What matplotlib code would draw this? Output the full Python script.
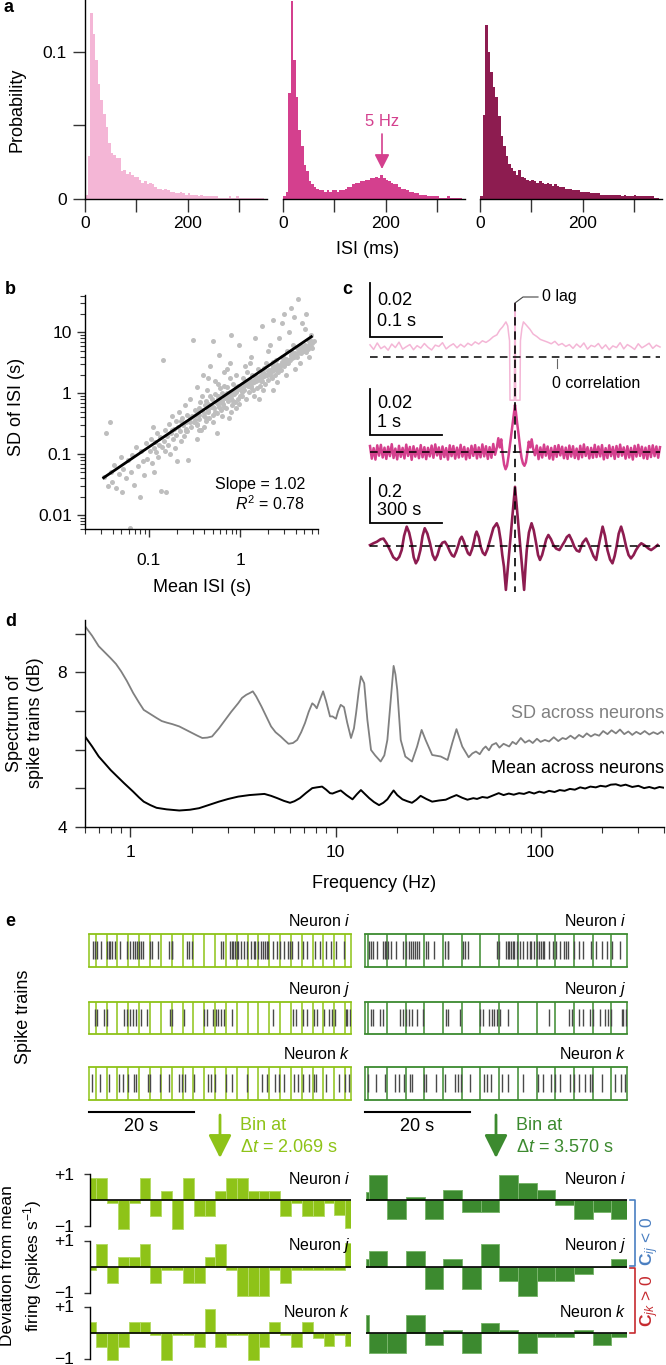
import numpy as np
import matplotlib
matplotlib.use('Agg')
import matplotlib.pyplot as plt
from matplotlib.ticker import LogLocator, FixedLocator, FixedFormatter, NullFormatter

plt.rcParams['font.family'] = ['Liberation Sans', 'DejaVu Sans']
plt.rcParams['mathtext.fontset'] = 'custom'
plt.rcParams['mathtext.rm'] = 'Liberation Sans'
plt.rcParams['mathtext.it'] = 'Liberation Sans:italic'
plt.rcParams['mathtext.bf'] = 'Liberation Sans:bold'
plt.rcParams['axes.linewidth'] = 1.0

# ---------------- data ----------------
# a: ISI histograms (probability x 1e-3, 5 ms bins from 0 to 350 ms)
ISI_BIN_MS = 5
ISI_HIST_1 = [3, 29, 126, 112, 94, 78, 67, 58, 49, 38, 31, 30, 28, 28, 19, 20, 17, 18, 16, 15,
              15, 13, 11, 12, 10, 11, 10, 8, 7, 7, 6, 7, 6, 5, 5, 4, 4, 5, 4, 3,
              4, 3, 3, 3, 2, 3, 2, 2, 2, 2, 2, 2, 1, 1, 1, 1, 2, 1, 1, 2,
              1, 1, 1, 1, 1, 1, 1, 1, 1, 1]
ISI_HIST_2 = [2, 5, 72, 134, 94, 69, 47, 36, 23, 19, 12, 10, 8, 7, 6, 6, 5, 6, 5, 6,
              6, 5, 6, 6, 7, 8, 8, 10, 11, 11, 12, 12, 13, 13, 14, 14, 15, 14, 16, 14,
              13, 12, 11, 10, 10, 8, 7, 7, 6, 5, 5, 4, 4, 3, 3, 3, 2, 2, 2, 2,
              2, 1, 1, 1, 2, 1, 1, 1, 1, 1]
ISI_HIST_3 = [2, 57, 118, 100, 86, 76, 69, 56, 43, 36, 29, 24, 21, 19, 16, 20, 15, 14, 13, 12,
              13, 12, 11, 12, 11, 10, 11, 10, 9, 10, 9, 8, 8, 7, 7, 7, 6, 6, 6, 5,
              5, 5, 5, 4, 4, 4, 4, 3, 3, 3, 3, 3, 3, 3, 3, 2, 3, 2, 2, 2,
              3, 2, 2, 2, 2, 2, 2, 2, 1, 1]
HIST_COLORS = ['#f4b6d6', '#d4408e', '#8d1c50']

# b: log10 mean ISI / log10 SD of ISI per neuron
LOG_MEAN_ISI = [
    -1.49, -1.47, -1.45, -1.43, -1.42, -1.40, -1.38, -1.36, -1.33, -1.31, -1.30, -1.28, -1.25,
    -1.23, -1.21, -1.20, -1.18, -1.16, -1.14, -1.12, -1.10, -1.09, -1.07, -1.05, -1.03, -1.02,
    -0.99, -0.98, -0.97, -0.96, -0.95, -0.94, -0.93, -0.92, -0.91, -0.90, -0.89, -0.88, -0.87,
    -0.86, -0.85, -0.84, -0.83, -0.82, -0.81, -0.80, -0.79, -0.78, -0.77, -0.76, -0.75, -0.74,
    -0.73, -0.72, -0.71, -0.70, -0.69, -0.68, -0.67, -0.66, -0.65, -0.64, -0.63, -0.62, -0.61,
    -0.60, -0.59, -0.58, -0.57, -0.56, -0.55, -0.54, -0.53, -0.52, -0.51, -0.50,
    -0.49, -0.48, -0.47, -0.46, -0.45, -0.44, -0.43, -0.42, -0.41, -0.40, -0.39, -0.38, -0.37,
    -0.36, -0.35, -0.34, -0.33, -0.32, -0.31, -0.30, -0.29, -0.28, -0.27, -0.26, -0.25, -0.24,
    -0.23, -0.22, -0.21, -0.20, -0.19, -0.18, -0.17, -0.16, -0.15, -0.14, -0.13, -0.12, -0.11,
    -0.10, -0.09, -0.08, -0.07, -0.06, -0.05, -0.04, -0.03, -0.02, -0.01, 0.00, -0.45, -0.40,
    -0.35, -0.30, -0.25, -0.20, -0.15, -0.10, -0.05, -0.02, -0.42, -0.38, -0.33, -0.28, -0.22,
    -0.18, -0.12, -0.08, -0.03, -0.48, -0.26, -0.10, -0.30,
    0.01, 0.02, 0.03, 0.04, 0.05, 0.06, 0.07, 0.08, 0.09, 0.10, 0.11, 0.12, 0.13, 0.14, 0.15,
    0.16, 0.17, 0.18, 0.19, 0.20, 0.21, 0.22, 0.23, 0.24, 0.25, 0.26, 0.27, 0.28, 0.29, 0.30,
    0.31, 0.32, 0.33, 0.34, 0.35, 0.36, 0.37, 0.38, 0.39, 0.40, 0.41, 0.42, 0.43, 0.44, 0.45,
    0.46, 0.47, 0.48, 0.49, 0.50, 0.51, 0.52, 0.53, 0.54, 0.55, 0.56, 0.57, 0.58, 0.59, 0.60,
    0.61, 0.62, 0.63, 0.64, 0.65, 0.66, 0.67, 0.68, 0.69, 0.70, 0.71, 0.72, 0.73, 0.74, 0.75,
    0.76, 0.77, 0.78, 0.20, 0.35, 0.50, 0.65, 0.55, 0.45, 0.30, 0.70, 0.10, 0.40, 0.60, 0.75,
    0.05, 0.25, 0.15,
    -0.60, -0.55, -0.50, -0.45, -0.40, -0.35, -0.30, -0.25, -0.20, -0.15, -0.10, -0.05, 0.00,
    0.05, 0.10, 0.15, 0.20, 0.25, 0.30, 0.35, 0.40, 0.45, 0.50, 0.55, 0.60, 0.65, 0.70, 0.75,
    0.80, -0.58, -0.48, -0.38, -0.28, -0.18, -0.08, 0.02, 0.12, 0.22, 0.32, 0.42, 0.52, 0.62,
    0.72, 0.78,
    0.03, 0.08, 0.13, 0.18, 0.23, 0.28, 0.33, 0.38, 0.43, 0.48, 0.53, 0.58, 0.63, 0.68, 0.73,
    0.77, 0.06, 0.16, 0.26, 0.36, 0.46, 0.56, 0.66, 0.76, -0.35, -0.25, -0.15, -0.05, -0.45,
    -0.55, -0.65, -0.75]
LOG_SD_ISI = [
    -1.38, -0.66, -1.52, -0.48, -1.29, -1.45, -1.18, -1.55, -1.32, -1.05, -1.62, -1.25, -1.40,
    -1.10, -2.22, -1.30, -1.02, -1.50, -0.88, -1.19, -1.70, -0.95, -1.12, -1.35, -0.82, -1.08,
    -0.95, -0.75, -1.15, -0.55, -0.90, -1.30, -0.80, -0.97, -0.65, -1.05, -0.85, -0.72, -1.60,
    -0.88, 0.54, -0.78, -0.95, -0.60, -1.62, -0.70, -0.85, -0.50, -1.00, -0.66, -0.38, -0.75,
    -0.58, -0.90, -0.45, -0.68, -1.12, -0.55, -0.30, -0.62, -0.78, -0.40, -0.52, -0.70, -0.20,
    -0.48, -0.62, -0.35, -1.10, -0.45, -0.10, -0.55, -0.38, 0.88, -0.48, -0.28,
    -0.35, -0.50, 0.10, -0.30, -0.42, -0.15, -0.60, -0.28, 0.30, -0.38, -0.20, -0.45, 0.05,
    -0.30, -0.18, -0.40, 0.45, -0.22, -0.10, -0.35, -0.25, 0.20, -0.15, -0.32, -0.05, -0.22,
    0.62, -0.12, -0.28, 0.00, -0.18, 0.35, -0.08, -0.25, 0.10, -0.12, -0.40, 0.02, 0.50,
    -0.08, -0.20, 0.15, -0.02, -0.15, 0.30, 0.05, -0.10, 0.80, 0.08, -0.05, -0.60, -0.55,
    0.25, -0.48, 0.15, -0.38, 0.40, -0.30, -0.25, -0.18, -0.05, -0.12, -0.05, -0.02, 0.08,
    0.12, 0.25, 0.02, 0.12, -0.75, -0.65, 0.95, 0.85,
    0.10, -0.05, 0.25, 0.05, 0.15, -0.10, 0.35, 0.12, 0.02, 0.22, 0.60, 0.10, 0.30, 0.05, 0.18,
    0.90, 0.20, 0.08, 0.40, 0.25, 0.12, 0.30, 1.10, 0.20, 0.35, 0.28, 0.15, 0.50, 0.30, 0.22,
    0.38, 0.80, 0.35, 0.25, 0.45, 1.20, 0.38, 0.30, 0.55, 0.42, 0.35, 0.90, 0.45, 0.38, 0.60,
    0.48, 1.30, 0.45, 0.55, 0.50, 0.70, 0.55, 1.00, 0.55, 0.62, 0.58, 0.80, 0.60, 1.25, 0.65,
    0.62, 0.75, 1.55, 0.68, 0.72, 0.66, 1.15, 0.74, 0.70, 0.80, 0.75, 1.30, 0.78, 0.72, 0.85,
    0.80, 0.95, 0.82, -0.10, 0.05, 0.30, 0.50, 1.40, 1.15, 0.70, 1.05, 0.50, 0.18, 0.40, 0.60,
    0.45, 0.05, -0.05,
    -0.58, -0.47, -0.44, -0.36, -0.33, -0.27, -0.22, -0.18, -0.12, -0.07, -0.03, 0.02, 0.07,
    0.13, 0.18, 0.22, 0.27, 0.32, 0.36, 0.42, 0.46, 0.51, 0.56, 0.61, 0.66, 0.70, 0.76, 0.80,
    0.86, -0.62, -0.52, -0.40, -0.31, -0.22, -0.12, 0.02, 0.10, 0.20, 0.30, 0.40, 0.50, 0.60,
    0.68, 0.74,
    0.08, 0.15, 0.16, 0.22, 0.26, 0.30, 0.38, 0.40, 0.47, 0.52, 0.55, 0.62, 0.66, 0.70, 0.74,
    0.76, 0.20, 0.28, 0.41, 0.52, 0.60, 0.68, 0.78, 0.88, -0.20, -0.09, 0.00, 0.10, -0.25,
    -0.40, -0.45, -0.60]
FIT_SLOPE = 1.02
FIT_LOG_INTERCEPT = 0.138
FIT_RANGE = [0.032, 5.95]

# c: cross-correlograms (corr x 1e-3 for the two upper traces)
C1_LEFT_NOISE = [4.5, 2.8, 5.2, 3.1, 4.0, 2.5, 4.8, 3.5, 5.5, 2.9, 3.8, 4.6, 2.7, 4.2, 3.3, 5.0, 3.6,
                 2.6, 4.4, 3.9, 5.3, 3.0, 4.1, 4.9, 3.4, 4.7, 3.7, 5.1, 4.3, 5.6, 4.8, 6.0, 5.4]
C1_CENTER_LAG = [-0.035, -0.030, -0.025, -0.021, -0.017, -0.0125, -0.010, -0.0085, -0.0075, -0.0069,
                 -0.001, 0.0, 0.001, 0.0069, 0.0075, 0.0095, 0.0116, 0.015, 0.0208, 0.025, 0.030,
                 0.035, 0.040]
C1_CENTER_VAL = [6.3, 7.5, 8.2, 10.0, 11.2, 13.0, 11.5, 8.0, 6.0, -16.0,
                 -16.0, 20.0, -16.0, -16.0, 6.0, 10.5, 13.0, 12.0, 10.2, 8.5, 7.6,
                 6.5, 6.0]
C1_RIGHT_NOISE = [5.5, 4.9, 5.8, 4.4, 5.0, 3.9, 4.6, 3.2, 4.8, 3.6, 5.2, 2.9, 4.3, 3.8, 5.0, 3.1,
                  4.5, 2.7, 4.1, 3.5, 5.3, 3.0, 4.6, 3.8, 2.8, 4.9, 3.4, 4.2, 5.1, 3.2, 4.4, 3.7]

C2_LEFT_NOISE = [2.6, -2.9, 1.7, -3.3, 2.9, -1.6, 3.1, -2.4, 1.9, -3.0, 2.3, -1.8, 3.4, -2.6, 1.5,
                 -3.2, 2.7, -2.1, 1.8, -2.8, 3.2, -1.7, 2.2, -3.4, 2.5, -2.0, 1.6, -2.7, 3.0, -2.3,
                 2.1, -3.1, 1.8, -1.9, 2.8, -2.5, 3.3, -1.5, 2.0, -3.0, 2.4, -2.2, 1.7, -3.3, 2.9,
                 -1.8, 2.6, -2.9, 1.9, -2.4, 3.1, -2.0, 2.2, -3.2, 1.6, -2.6, 2.7, -1.7, 3.0, -2.8,
                 2.0, -2.3, 3.3, -1.9, 2.5, -3.0, 2.1, -2.5, 3.5, -1.2]
C2_CENTER_LAG = [-0.25, -0.23, -0.21, -0.19, -0.17, -0.15, -0.13, -0.11, -0.09, -0.07, -0.05, -0.03,
                 -0.01, 0.0, 0.01, 0.03, 0.05, 0.07, 0.09, 0.11, 0.13, 0.15, 0.17, 0.19, 0.21, 0.23,
                 0.25]
C2_CENTER_VAL = [2.0, 6.0, 2.0, 5.5, -1.0, -5.5, -7.5, -6.0, -2.0, 3.0, 8.0, 13.0, 18.0,
                 20.5, 18.0, 12.5, 7.5, 2.0, -2.5, -5.0, -6.0, -4.5, -0.5, 4.5, 2.0, 5.5, 1.5]
C2_RIGHT_NOISE = [-1.4, 2.8, -3.1, 2.0, -2.4, 3.2, -1.6, 2.4, -2.9, 1.8, -3.3, 2.6, -2.1, 3.0, -1.5,
                  2.3, -2.7, 1.9, -3.0, 2.8, -2.0, 2.5, -2.6, 1.5, -3.1, 2.7, -2.3, 3.3, -1.7, 2.1,
                  -2.8, 1.8, -2.5, 3.1, -2.2, 2.4, -1.9, 3.0, -3.2, 1.7, -2.6, 2.9, -1.8, 2.2, -3.0,
                  2.6, -2.1, 3.2, -1.6, 2.0, -2.9, 2.5, -2.4, 1.8, -3.3, 2.7, -2.0, 3.1, -1.7, 2.3,
                  -2.7, 1.9, -3.0, 2.6, -2.2, 2.9, -1.8, 2.4, -2.5, 2.1]

C3_LAG = [-604, -590, -575, -560, -548, -535, -521, -507, -493, -482, -472, -462, -451, -441, -431,
          -422, -413, -404, -394, -385, -376, -365, -354, -343, -333, -323, -313, -302, -292, -281,
          -271, -262, -254, -245, -236, -229, -222, -213, -204, -196, -188, -179, -171, -165, -160,
          -151, -143, -134, -125, -115, -104, -90, -76, -68, -60, -53, -46, -38, 0, 38, 44, 49, 58,
          69, 78, 88, 96, 104, 113, 122, 130, 139, 150, 160, 172, 185, 195, 206, 216, 226, 237,
          247, 257, 268, 282, 296, 306, 317, 327, 338, 352, 365, 375, 385, 396, 406, 415, 423, 432,
          442, 452, 463, 473, 483, 494, 504, 515, 526, 537, 547, 557, 567, 580, 594]
C3_VAL = [0.004, 0.012, 0.019, 0.030, 0.033, 0.012, -0.018, -0.050, -0.062, -0.048, -0.018, 0.045,
          0.086, 0.060, 0.012, -0.050, -0.077, -0.060, -0.018, 0.045, 0.079, 0.055, 0.012, -0.040,
          -0.062, -0.040, -0.003, 0.015, 0.019, 0.000, -0.025, -0.042, -0.047, -0.025, 0.004,
          0.030, 0.041, 0.020, -0.010, -0.032, -0.040, -0.015, 0.019, 0.050, 0.064, 0.040, -0.003,
          -0.030, -0.040, -0.015, 0.027, 0.080, 0.101, 0.080, 0.027, -0.040, -0.092, -0.195, 0.263,
          -0.195, -0.090, -0.018, 0.060, 0.101, 0.070, 0.012, -0.040, -0.062, -0.040, -0.003,
          0.030, 0.049, 0.030, 0.004, -0.012, -0.018, 0.000, 0.019, 0.040, 0.049, 0.025, -0.003,
          -0.020, -0.025, 0.015, 0.033, 0.010, -0.018, -0.045, -0.062, 0.020, 0.086, 0.045,
          -0.018, -0.060, -0.077, -0.045, -0.003, 0.055, 0.086, 0.050, -0.003, -0.040, -0.055,
          -0.040, -0.018, 0.000, 0.012, 0.005, -0.003, -0.012, -0.018, -0.008, 0.004]

# d: spectra (Hz, dB)
SD_FREQ = [0.6, 0.65, 0.7, 0.75, 0.8, 0.85, 0.9, 0.96, 1.03, 1.1, 1.16, 1.25, 1.34, 1.42, 1.5, 1.6,
           1.73, 1.85, 2.0, 2.12, 2.24, 2.37, 2.5, 2.7, 2.9, 3.1, 3.35, 3.5, 3.67, 3.8, 3.95, 4.1,
           4.35, 4.6, 4.85, 5.1, 5.4, 5.65, 5.9, 6.2, 6.5, 6.8, 7.1, 7.4, 7.7, 7.9, 8.1, 8.4, 8.7,
           9.0, 9.4, 9.67, 10.05, 10.3, 10.6, 11.0, 11.4, 11.9, 12.3, 12.6, 13.0, 13.3, 13.8,
           14.3, 14.9, 15.6, 16.6, 17.3, 17.9, 18.6, 19.2, 19.6, 20.0, 20.8, 21.9, 23.6, 25.0,
           26.3, 27.5, 29.6, 32.6, 35.2, 37.1, 38.9, 41.5, 44.6, 46.5, 48.4, 50.5, 52.5, 54.0,
           56, 58, 60.7, 63, 66, 70.3, 73, 76, 80.1, 84, 88, 91.6, 96, 100, 105, 110, 116, 122,
           128, 133, 140, 147, 154, 161, 168, 176, 184, 193, 202, 212, 222, 233, 244, 256, 268,
           280, 293, 307, 322, 339, 355, 372, 390, 400]
SD_DB = [9.20, 8.95, 8.68, 8.52, 8.37, 8.22, 8.03, 7.78, 7.47, 7.22, 7.03, 6.92, 6.82, 6.74, 6.70,
         6.66, 6.60, 6.52, 6.43, 6.36, 6.30, 6.31, 6.34, 6.55, 6.77, 6.98, 7.20, 7.34, 7.42, 7.46,
         7.51, 7.38, 7.12, 6.85, 6.60, 6.45, 6.34, 6.24, 6.15, 6.17, 6.25, 6.45, 6.69, 6.98, 7.20,
         7.15, 7.07, 7.30, 7.51, 7.25, 6.86, 6.86, 6.80, 7.00, 7.16, 7.10, 6.70, 6.30, 6.55, 6.95,
         7.55, 7.90, 7.72, 6.77, 5.99, 5.85, 5.69, 5.85, 6.25, 7.30, 8.17, 7.95, 7.55, 6.25, 5.82,
         5.69, 6.08, 6.51, 6.25, 5.86, 5.82, 5.73, 6.17, 6.53, 6.08, 5.80, 5.90, 5.95, 5.88, 6.02,
         6.08, 5.98, 6.12, 6.17, 6.05, 6.15, 6.08, 6.20, 6.14, 6.30, 6.18, 6.24, 6.17, 6.28, 6.20,
         6.25, 6.21, 6.32, 6.22, 6.30, 6.27, 6.36, 6.28, 6.38, 6.32, 6.42, 6.34, 6.40, 6.36, 6.48,
         6.40, 6.50, 6.42, 6.52, 6.40, 6.47, 6.38, 6.46, 6.40, 6.48, 6.39, 6.45, 6.40, 6.47, 6.42]
MEAN_FREQ = [0.6, 0.65, 0.7, 0.75, 0.8, 0.87, 0.93, 1.03, 1.1, 1.16, 1.25, 1.34, 1.5, 1.73, 1.95,
             2.16, 2.4, 2.7, 3.0, 3.35, 3.8, 4.5, 4.85, 5.2, 5.6, 6.0, 6.3, 6.7, 7.2, 7.7, 8.1, 8.6,
             9.0, 9.4, 9.67, 10.1, 10.6, 11.3, 12.1, 12.7, 13.3, 13.9, 14.6, 15.4, 16.3, 17.1, 17.9,
             18.6, 19.2, 20.0, 21.2, 22.4, 23.6, 24.8, 26.0, 27.7, 29.6, 32.0, 34.5, 36.5, 38.9,
             41.5, 44.0, 47, 49, 52, 55, 58, 62.5, 66, 70, 74, 78.6, 83, 88, 93, 98.6, 104, 110,
             117, 124, 131, 139, 147, 156, 165, 175, 186, 196, 208, 220, 233, 246, 260, 280, 300,
             320, 339, 360, 380, 400]
MEAN_DB = [6.34, 6.08, 5.82, 5.64, 5.47, 5.28, 5.13, 4.91, 4.76, 4.65, 4.56, 4.49, 4.45, 4.42, 4.44,
           4.48, 4.56, 4.65, 4.72, 4.78, 4.82, 4.85, 4.80, 4.74, 4.67, 4.62, 4.66, 4.74, 4.88, 5.00,
           5.02, 5.04, 4.96, 4.87, 4.86, 4.90, 4.94, 4.82, 4.71, 4.84, 4.95, 4.85, 4.74, 4.64, 4.56,
           4.62, 4.71, 4.84, 4.94, 4.82, 4.71, 4.66, 4.62, 4.70, 4.80, 4.72, 4.65, 4.68, 4.70, 4.76,
           4.82, 4.75, 4.70, 4.74, 4.72, 4.77, 4.75, 4.80, 4.87, 4.82, 4.86, 4.83, 4.87, 4.85, 4.90,
           4.86, 4.91, 4.88, 4.93, 4.90, 4.95, 4.93, 4.98, 4.96, 5.02, 4.99, 5.04, 5.02, 5.06, 5.04,
           5.09, 5.10, 5.06, 5.09, 5.03, 5.06, 5.00, 5.03, 4.99, 5.03, 5.01]

# e: spike times (s) over a 50 s window
TRAIN_LEN = 50.0
SPIKES_I = [0.72, 1.05, 1.53, 2.35, 3.40, 3.73, 3.97, 4.30, 4.95, 5.92, 7.22, 7.79, 8.36, 8.85, 9.17,
            9.50, 9.83, 10.23, 11.61, 12.10, 13.24, 15.35, 15.76, 15.92, 18.61, 19.17, 19.74, 25.27,
            25.60, 26.90, 27.30, 27.55, 27.87, 28.20, 28.52, 29.01, 29.50, 30.15, 30.96, 31.45,
            31.77, 32.18, 32.75, 33.24, 33.56, 33.89, 34.21, 35.03, 35.84, 36.49, 37.30, 37.95,
            38.28, 38.77, 39.90, 40.88, 41.69, 43.15, 44.13, 45.19, 46.24, 47.22, 48.68]
SPIKES_J = [1.05, 1.53, 2.92, 3.49, 6.74, 7.22, 7.79, 8.36, 9.01, 9.99, 11.05, 15.52, 15.92, 18.12,
            21.86, 22.43, 23.65, 24.30, 24.62, 25.11, 25.68, 27.30, 35.03, 38.93, 39.50, 40.88,
            41.69, 42.99, 43.56, 44.78, 45.76, 46.41, 46.89, 49.01, 49.33, 49.82]
SPIKES_K = [0.48, 2.10, 3.73, 5.76, 6.57, 7.39, 8.61, 9.01, 11.29, 11.61, 13.48, 15.35, 17.14, 17.79,
            18.36, 19.99, 22.67, 23.24, 24.05, 26.08, 27.30, 30.15, 32.99, 34.05, 35.43, 36.24,
            37.30, 39.09, 39.90, 40.88, 41.94, 42.99, 43.32, 45.19, 47.63, 48.84, 49.66]

BIN_LEFT_DT = 2.069
BIN_LEFT_START = 1.3
BIN_RIGHT_DT = 3.570
BIN_RIGHT_START = 0.6

# deviation from mean firing (spikes/s) per bin
DEV_I_LEFT = [0.83, 0.83, -0.13, -1.13, -0.13, 0.83, -0.62, 0.35, -1.13, 0.83, -0.62, -0.62, 0.35,
              0.83, 0.83, 0.35, 0.35, 0.35, -0.62, -0.13, -0.62, -0.62, -0.10, -0.57, -1.07]
DEV_J_LEFT = [-0.14, 0.86, -0.64, 0.35, 0.35, 0.86, -0.64, -0.14, -0.14, -0.64, -0.64, 0.35, 0.86,
              -0.14, -1.13, -1.13, -1.13, -0.14, -0.63, -0.13, -0.13, -0.13, -0.13, -0.13, 0.90]
DEV_K_LEFT = [0.41, -0.55, -1.06, -0.55, 0.41, 0.41, -0.10, -1.06, -0.10, -0.10, -0.55, 0.92, -0.55,
              -0.10, -0.10, -1.06, -0.55, 0.41, -0.10, -0.55, 0.41, -0.20, -0.50, -0.10, -0.50]
DEV_I_RIGHT = [0.32, 0.96, -0.73, 0.10, -0.73, 0.38, -0.45, -0.45, 0.96, 0.67, 0.38, -0.19, -0.73,
               -0.45, -0.73]
DEV_J_RIGHT = [0.28, 0.58, 0.0, 0.58, -0.85, 0.28, -0.85, 0.86, -0.55, -1.13, -0.55, -0.55, -0.27,
               0.0, 0.28]
DEV_K_RIGHT = [0.67, -0.77, -0.77, 0.67, -0.49, 0.09, -0.77, 0.37, 0.09, -0.77, -0.17, -0.17, 0.09,
               -0.49, -0.17]

NEURON_NAMES = ['i', 'j', 'k']
GREEN_LIGHT = '#8ec318'
GREEN_DARK = '#3c8a2f'

# ---------------- figure ----------------
W, H = 666, 1365
fig = plt.figure(figsize=(W / 100, H / 100), dpi=100)
TICK_FS = 12.5
LABEL_FS = 13


def px_axes(left, top, right, bottom):
    return fig.add_axes([left / W, 1 - bottom / H, (right - left) / W, (bottom - top) / H])


def hide_spines(ax, names):
    for s in names:
        ax.spines[s].set_visible(False)


# ----- panel a -----
hist_axes = [px_axes(85, 0, 267, 199), px_axes(283, 0, 465, 199), px_axes(480, 0, 662, 199)]
for n, (ax, vals, col) in enumerate(zip(hist_axes, [ISI_HIST_1, ISI_HIST_2, ISI_HIST_3], HIST_COLORS)):
    left = np.arange(len(vals)) * ISI_BIN_MS
    ax.bar(left, np.array(vals) * 1e-3, width=ISI_BIN_MS, align='edge', color=col, lw=0)
    ax.set_xlim(0, 355)
    ax.set_ylim(0, 0.135)
    hide_spines(ax, ['top', 'right'])
    ax.set_xticks([0, 100, 200, 300])
    ax.set_xticklabels(['0', '', '200', ''])
    ax.tick_params(axis='x', length=9, width=1, pad=3, labelsize=TICK_FS, color='#333333')
    if n == 0:
        ax.set_yticks([0, 0.05, 0.1])
        ax.set_yticklabels(['0', '', '0.1'])
        ax.tick_params(axis='y', length=9, width=1, pad=4, labelsize=TICK_FS, color='#333333')
    else:
        ax.spines['left'].set_visible(False)
        ax.set_yticks([])

# ----- panel b -----
axb = px_axes(85, 295, 318, 529)
axb.scatter(10 ** np.array(LOG_MEAN_ISI), 10 ** np.array(LOG_SD_ISI), s=13, color='#bebebe', lw=0,
            zorder=2)
fx = np.array(FIT_RANGE)
axb.plot(fx, 10 ** FIT_LOG_INTERCEPT * fx ** FIT_SLOPE, color='black', lw=2, zorder=3)
axb.set_xscale('log')
axb.set_yscale('log')
axb.set_xlim(0.02, 7.03)
axb.set_ylim(0.0059, 41)
hide_spines(axb, ['top', 'right'])
axb.xaxis.set_major_locator(FixedLocator([0.1, 1]))
axb.xaxis.set_major_formatter(FixedFormatter(['0.1', '1']))
axb.xaxis.set_minor_locator(LogLocator(base=10, subs=np.arange(2, 10)))
axb.xaxis.set_minor_formatter(NullFormatter())
axb.yaxis.set_major_locator(FixedLocator([0.01, 0.1, 1, 10]))
axb.yaxis.set_major_formatter(FixedFormatter(['0.01', '0.1', '1', '10']))
axb.yaxis.set_minor_locator(LogLocator(base=10, subs=np.arange(2, 10)))
axb.yaxis.set_minor_formatter(NullFormatter())
axb.tick_params(which='major', length=6, width=1, labelsize=TICK_FS, color='#333333')
axb.tick_params(which='minor', length=3.5, width=0.8, color='#333333')
axb.tick_params(axis='x', which='major', pad=11)
axb.tick_params(axis='y', which='major', pad=3.5)

# ----- panel c -----
def c_axes(top, bottom, half, k, base):
    ax = px_axes(370, top, 660, bottom)
    ax.set_xlim(-half, half)
    ax.set_ylim(-(bottom - base) * k, (base - top) * k)
    ax.axis('off')
    ax.axhline(0, color='black', lw=1.1, ls=(0, (5, 3.5)), zorder=3)
    return ax


axc1 = c_axes(280, 405, 0.2, 0.02 / 54, 357)
lag1 = np.concatenate([np.linspace(-0.2, -0.04, len(C1_LEFT_NOISE)), C1_CENTER_LAG,
                       np.linspace(0.045, 0.2, len(C1_RIGHT_NOISE))])
val1 = np.array(C1_LEFT_NOISE + C1_CENTER_VAL + C1_RIGHT_NOISE) * 1e-3
axc1.plot(lag1, val1, color=HIST_COLORS[0], lw=1.1, zorder=2, clip_on=False)

axc2 = c_axes(405, 500, 2.0, 0.02 / 46, 452)
lag2 = np.concatenate([np.linspace(-2.0, -0.275, len(C2_LEFT_NOISE)), C2_CENTER_LAG,
                       np.linspace(0.275, 2.0, len(C2_RIGHT_NOISE))])
val2 = np.array(C2_LEFT_NOISE + C2_CENTER_VAL + C2_RIGHT_NOISE) * 1e-3
axc2.plot(lag2, val2, color=HIST_COLORS[1], lw=1.8, zorder=2, clip_on=False)

axc3 = c_axes(500, 600, 604, 0.2 / 45, 546)
axc3.plot(C3_LAG, C3_VAL, color=HIST_COLORS[2], lw=1.9, zorder=2, clip_on=False,
          solid_joinstyle='round')

# ----- panel d -----
axd = px_axes(85, 620, 664, 826.7)
axd.plot(SD_FREQ, SD_DB, color='#808080', lw=1.3)
axd.plot(MEAN_FREQ, MEAN_DB, color='black', lw=1.4)
axd.set_xscale('log')
axd.set_xlim(0.6, 400)
axd.set_ylim(4, 9.36)
hide_spines(axd, ['top', 'right'])
axd.xaxis.set_major_locator(FixedLocator([1, 10, 100]))
axd.xaxis.set_major_formatter(FixedFormatter(['1', '10', '100']))
axd.xaxis.set_minor_locator(LogLocator(base=10, subs=np.arange(2, 10)))
axd.xaxis.set_minor_formatter(NullFormatter())
axd.set_yticks([4, 5, 6, 7, 8, 9])
axd.set_yticklabels(['4', '', '', '', '8', ''])
axd.tick_params(which='major', length=7, width=1, labelsize=TICK_FS, color='#333333', pad=6)
axd.tick_params(which='minor', length=4, width=0.8, color='#333333')
axd.text(1.0, 6.93, 'SD across neurons', transform=axd.get_yaxis_transform(), ha='right',
         va='center', color='#808080', fontsize=LABEL_FS)
axd.text(1.0, 5.50, 'Mean across neurons', transform=axd.get_yaxis_transform(), ha='right',
         va='center', color='black', fontsize=LABEL_FS)

# ----- panel e : spike trains -----
left_edges = [0.0] + [BIN_LEFT_START + BIN_LEFT_DT * k for k in range(24)] + [TRAIN_LEN]
right_edges = [0.0] + [BIN_RIGHT_START + BIN_RIGHT_DT * k for k in range(14)] + [TRAIN_LEN]
train_rows = [(934, 967), (1002, 1034), (1067, 1100)]
bar_rows = [1200.0, 1266.5, 1332.5]
groups = [(89, 351, left_edges, GREEN_LIGHT, [DEV_I_LEFT, DEV_J_LEFT, DEV_K_LEFT], '#b5db66'),
          (365, 627, right_edges, GREEN_DARK, [DEV_I_RIGHT, DEV_J_RIGHT, DEV_K_RIGHT], '#79b56c')]
spikes = [SPIKES_I, SPIKES_J, SPIKES_K]

for gi, (x0, x1, edges, gcol, devs, ecol) in enumerate(groups):
    for ri, ((top, bot), sp, name) in enumerate(zip(train_rows, spikes, NEURON_NAMES)):
        ax = px_axes(x0, top, x1, bot)
        ax.set_xlim(0, TRAIN_LEN)
        ax.set_ylim(0, 1)
        ax.axis('off')
        ax.vlines(edges, 0, 1, color=gcol, lw=1.1, clip_on=False)
        ax.plot([0, TRAIN_LEN], [0, 0], color=gcol, lw=1.3, clip_on=False)
        ax.plot([0, TRAIN_LEN], [1, 1], color=gcol, lw=1.3, clip_on=False)
        ax.vlines(sp, 0.24, 0.79, color='#4a4a4a', lw=1.0)
        ax.text(1.0, 1.39, 'Neuron $%s$' % name, transform=ax.transAxes, ha='right', va='center',
                fontsize=11.5)
        if ri == 2:
            ax.plot([0, 20], [-0.36, -0.36], color='black', lw=1.5, clip_on=False)
            ax.text(10, -0.8, '20 s', ha='center', va='center', fontsize=LABEL_FS)

    # binned deviations
    widths = np.diff(edges)
    for ri, (center, dev, name) in enumerate(zip(bar_rows, devs, NEURON_NAMES)):
        ax = px_axes(x0 + 0.5, center - 32.5, x1, center + 32.5)
        ax.bar(edges[:-1], dev, width=widths, align='edge', color=gcol, edgecolor=ecol, lw=0.7)
        ax.axhline(0, color='black', lw=1.2, zorder=3)
        ax.set_xlim(0, TRAIN_LEN)
        ax.set_ylim(-1.25, 1.25)
        hide_spines(ax, ['top', 'right', 'bottom'])
        ax.set_xticks([])
        ax.text(1.0, 0.8, 'Neuron $%s$' % name, transform=ax.get_yaxis_transform(), ha='right',
                va='center', fontsize=11.5)
        if gi == 0:
            ax.spines['left'].set_bounds(-1, 1)
            ax.set_yticks([-1, 1])
            ax.set_yticklabels(['\u22121', '+1'])
            ax.tick_params(axis='y', length=4, width=1, pad=7, labelsize=TICK_FS, color='#333333')
        else:
            ax.spines['left'].set_visible(False)
            ax.set_yticks([])

# ---------------- overlay: labels and decorations (pixel coords) ----------------
ov = fig.add_axes([0, 0, 1, 1], zorder=10)
ov.set_xlim(0, W)
ov.set_ylim(H, 0)
ov.axis('off')
ov.patch.set_alpha(0)

for letter, (lx, ly) in zip('abcde', [(4, 7), (5, 289), (342, 289), (5, 622), (5, 922)]):
    ov.text(lx, ly, letter, fontsize=13, fontweight='bold', ha='left', va='center')

ov.text(17, 110, 'Probability', rotation=90, ha='center', va='center', fontsize=LABEL_FS)
ov.text(368, 250, 'ISI (ms)', ha='center', va='center', fontsize=LABEL_FS)
ov.text(382, 121, '5 Hz', ha='center', va='center', fontsize=12, color=HIST_COLORS[1])
ov.annotate('', xy=(382, 169), xytext=(382, 134),
            arrowprops=dict(arrowstyle='-|>,head_length=0.55,head_width=0.28', color=HIST_COLORS[1],
                            lw=1.2, mutation_scale=16, shrinkA=0, shrinkB=0))

ov.text(17, 407, 'SD of ISI (s)', rotation=90, ha='center', va='center', fontsize=LABEL_FS)
ov.text(202, 587, 'Mean ISI (s)', ha='center', va='center', fontsize=LABEL_FS)
ov.text(305, 485, 'Slope = 1.02', ha='right', va='center', fontsize=11.5)
ov.text(305, 504, '$R^2$ = 0.78', ha='right', va='center', fontsize=11.5)

# panel c scale bars and markers
for (yt, yb, t1, t2) in [(283, 337, '0.02', '0.1 s'), (389, 435, '0.02', '1 s'),
                         (478, 523, '0.2', '300 s')]:
    ov.plot([370, 370, 442], [yt, yb, yb], color='black', lw=1.3, solid_joinstyle='miter')
    ov.text(377, yt + (yb - yt) * 0.32, t1, ha='left', va='center', fontsize=LABEL_FS)
    ov.text(377, yt + (yb - yt) * 0.72, t2, ha='left', va='center', fontsize=LABEL_FS)
ov.plot([515, 515], [303, 592], color='black', lw=1.2, ls=(0, (5, 3.5)))
ov.plot([515, 523, 538], [303, 297, 297], color='#444444', lw=0.8)
ov.text(542, 297, '0 lag', ha='left', va='center', fontsize=11.5)
ov.plot([557, 557], [359, 368], color='#666666', lw=0.8)
ov.text(552, 383, '0 correlation', ha='left', va='center', fontsize=11.5)

ov.text(25, 723, 'Spectrum of\nspike trains (dB)', rotation=90, ha='center', va='center',
        fontsize=LABEL_FS, linespacing=1.35)
ov.text(374, 883, 'Frequency (Hz)', ha='center', va='center', fontsize=LABEL_FS)

# panel e labels
ov.text(24, 1017, 'Spike trains', rotation=90, ha='center', va='center', fontsize=LABEL_FS)
ov.text(22, 1266, 'Deviation from mean\nfiring (spikes s$^{\u22121}$)', rotation=90, ha='center',
        va='center', fontsize=12.5, linespacing=1.35)
for ax_x, tx, col, dt in [(220, 240, GREEN_LIGHT, '2.069'), (496, 516, GREEN_DARK, '3.570')]:
    ov.annotate('', xy=(ax_x, 1158), xytext=(ax_x, 1115),
                arrowprops=dict(arrowstyle='-|>,head_length=0.7,head_width=0.35', color=col,
                                lw=2, mutation_scale=20, shrinkA=0, shrinkB=0))
    ov.text(tx, 1125, 'Bin at', ha='left', va='center', fontsize=LABEL_FS, color=col)
    ov.text(tx, 1148, '$\\Delta t$ = %s s' % dt, ha='left', va='center', fontsize=LABEL_FS, color=col)

# correlation brackets
BLUE = '#4a7fc1'
RED = '#c62a2f'
ov.plot([630, 635, 635, 630], [bar_rows[0], bar_rows[0], bar_rows[1] - 1, bar_rows[1] - 1],
        color=BLUE, lw=1.2)
ov.plot([630, 635, 635, 630], [bar_rows[1] + 1, bar_rows[1] + 1, bar_rows[2], bar_rows[2]],
        color=RED, lw=1.2)
ov.text(650, 1241, '$\\mathbf{C}_{ij}$ < 0', rotation=90, ha='center', va='center', fontsize=12.5,
        color=BLUE)
ov.text(650, 1301, '$\\mathbf{C}_{jk}$ > 0', rotation=90, ha='center', va='center', fontsize=12.5,
        color=RED)

fig.savefig('out.png', dpi=100)
